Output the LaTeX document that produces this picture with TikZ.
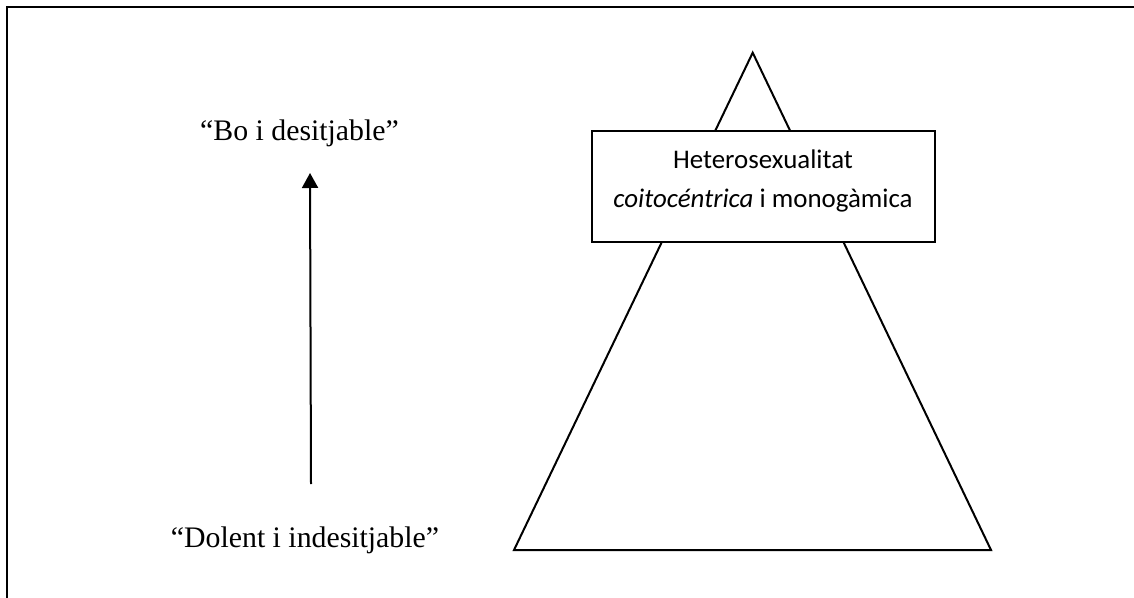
\documentclass[tikz,border=0pt]{standalone}
\usepackage{fontspec}
\setmainfont{Liberation Serif}
\newfontfamily\boxfont{Carlito}
\usetikzlibrary{arrows.meta}
\begin{document}
\begin{tikzpicture}[x=0.5pt,y=-0.5pt, line width=1pt,
 quote/.style={font=\fontsize{14.9}{17}\selectfont, inner sep=0pt, anchor=base},
 topbox/.style={draw, fill=white, minimum width=171.5pt, minimum height=55.5pt, inner sep=0pt},
 boxtext/.style={font=\boxfont\fontsize{13.45}{19.5}\selectfont, align=center, inner sep=0pt}]
\useasboundingbox (0,0) rectangle (1134,598);
\draw (7,598) -- (7,7) -- (1134,7);
\coordinate (apex) at (752.7,52.7);
\coordinate (bl) at (514,550);
\coordinate (br) at (991,550);
\draw[line join=miter] (apex) -- (bl) -- (br) -- cycle;
\node[topbox] (hbox) at (763.3,186.5) {};
\node[boxtext] (htext) at (763,181) {Heterosexualitat\\\textit{coitocéntrica} i monogàmica};
\node[quote] (good) at (299.5,141) {“Bo i desitjable”};
\node[quote] (bad) at (305,547) {“Dolent i indesitjable”};
\coordinate (abot) at (311,484);
\coordinate (atop) at (310,173);
\draw[-{Triangle[width=8pt,length=7.5pt]}] (abot) -- (atop);
\end{tikzpicture}
\end{document}
